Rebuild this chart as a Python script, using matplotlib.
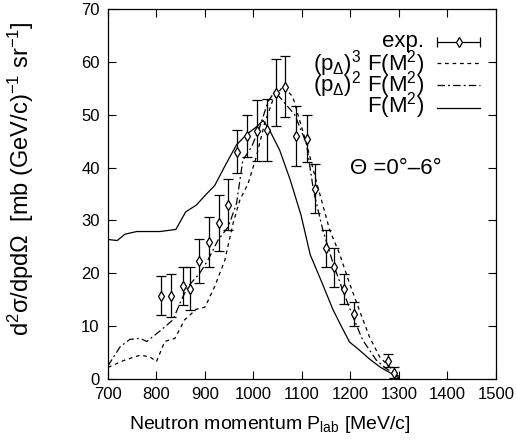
import matplotlib
matplotlib.use("Agg")
import matplotlib.pyplot as plt

plt.rcParams['font.family'] = ['Liberation Sans', 'DejaVu Sans']
plt.rcParams['mathtext.fontset'] = 'custom'
plt.rcParams['mathtext.rm'] = 'Liberation Sans'
plt.rcParams['mathtext.it'] = 'Liberation Sans:italic'
plt.rcParams['mathtext.bf'] = 'Liberation Sans:bold'

# experimental points
exp_p = [809, 830, 854, 869, 888, 908, 928, 947, 967, 987, 1007, 1028, 1046,
         1066, 1088, 1110, 1127, 1149, 1166, 1186, 1208, 1278, 1289]
exp_y = [15.8, 15.8, 17.6, 17.1, 22.3, 25.9, 29.5, 33.0, 43.0, 46.0, 47.0, 47.1, 54.2,
         55.3, 46.0, 45.5, 36.0, 24.7, 21.1, 17.0, 12.3, 3.5, 1.2]
exp_err = [3.6, 4.0, 3.6, 4.1, 4.1, 4.7, 5.3, 4.8, 4.1, 4.0, 5.8, 5.8, 6.3,
           5.8, 5.7, 4.5, 4.6, 3.5, 3.6, 2.9, 2.3, 1.2, 1.0]

# F(M^2)
f_p = [700, 719, 735, 759, 807, 840, 860, 882, 903, 920, 944, 965, 985, 1006, 1020,
       1033, 1054, 1076, 1098, 1117, 1140, 1164, 1181, 1198, 1218, 1239, 1262, 1285, 1300]
f_y = [26.4, 26.2, 27.4, 27.9, 27.9, 28.3, 31.6, 32.9, 35.0, 36.6, 40.8, 44.3, 46.2, 47.7, 48.9,
       47.1, 43.3, 37.6, 31.0, 23.5, 18.5, 13.1, 10.0, 7.0, 5.5, 3.8, 2.2, 1.0, 0.2]

# (p_Delta)^3 F(M^2)
p3_p = [700, 735, 766, 786, 800, 817, 838, 858, 882, 900, 920, 941, 958, 972, 989,
        1006, 1023, 1040, 1061, 1081, 1109, 1129, 1157, 1177, 1198, 1218, 1239, 1260, 1280, 1300]
p3_y = [2.2, 3.6, 4.5, 4.2, 3.3, 7.1, 7.7, 11.2, 13.2, 13.6, 17.5, 22.5, 29.5, 33.9, 37.0,
        42.1, 48.4, 52.8, 55.4, 53.4, 44.6, 37.6, 28.2, 23.8, 18.1, 13.1, 8.0, 4.2, 2.3, 0.5]

# (p_Delta)^2 F(M^2)
p2_p = [700, 725, 745, 766, 780, 810, 834, 851, 865, 889, 906, 927, 948, 965, 978,
        996, 1013, 1030, 1044, 1085, 1109, 1124, 1143, 1164, 1184, 1205, 1225, 1253, 1273, 1290, 1300]
p2_y = [2.5, 6.1, 7.5, 7.7, 7.1, 9.3, 11.2, 14.9, 17.5, 20.0, 22.5, 26.3, 28.8, 33.2, 41.4,
        43.9, 47.7, 52.5, 54.4, 50.0, 44.6, 35.5, 28.2, 21.9, 16.8, 11.8, 7.4, 3.6, 2.0, 1.1, 0.5]

legend_labels = ['exp.',
                 r'(p$_\Delta$)$^3$ F(M$^2$)',
                 r'(p$_\Delta$)$^2$ F(M$^2$)',
                 r'F(M$^2$)']

fig = plt.figure(figsize=(5.16, 4.42), dpi=100)
ax = fig.add_axes([0.2093, 0.1425, 0.7519, 0.8371])

lw = 0.9
dot_style = dict(color='black', lw=lw, dashes=(3, 3))
dashdot_style = dict(color='black', lw=lw, dashes=(6, 2.5, 1.5, 2.5))
solid_style = dict(color='black', lw=lw, ls='-')
exp_style = dict(fmt='d', color='black', mfc='white', mec='black', ms=5.5, mew=0.9,
                 elinewidth=0.9, capsize=3.5, capthick=0.9)

ax.plot(p3_p, p3_y, **dot_style)
ax.plot(p2_p, p2_y, **dashdot_style)
ax.plot(f_p, f_y, **solid_style)
ax.errorbar(exp_p, exp_y, yerr=exp_err, **exp_style)

ax.set_xlim(700, 1500)
ax.set_ylim(0, 70)
ax.set_xticks(range(700, 1501, 100))
ax.set_yticks(range(0, 71, 10))
ax.tick_params(direction='in', top=True, right=True, length=6, width=0.8,
               labelsize=12, pad=6)
for s in ax.spines.values():
    s.set_linewidth(0.9)

ax.set_xlabel(r'Neutron momentum P$_{\mathrm{lab}}$ [MeV/c]', fontsize=14)
ax.xaxis.set_label_coords(0.418, -0.095)
ax.set_ylabel(r'd$^2$σ/dpdΩ  [mb (GeV/c)$^{-1}$ sr$^{-1}$]', fontsize=17)
ax.yaxis.set_label_coords(-0.185, 0.54)

# legend drawn by hand: right-aligned labels, samples to the right
tr = ax.transAxes
text_y = [0.897, 0.835, 0.778, 0.719]
line_y = [0.910, 0.853, 0.795, 0.733]
x0, x1 = 0.848, 0.959
for lab, ty in zip(legend_labels, text_y):
    ax.text(0.814, ty, lab, transform=tr, fontsize=16, ha='right', va='baseline')
ax.errorbar([(x0 + x1) / 2], [line_y[0]], xerr=[(x1 - x0) / 2], transform=tr,
            clip_on=False, **exp_style)
ax.plot([x0, x1], [line_y[1]] * 2, transform=tr, **dot_style)
ax.plot([x0, x1], [line_y[2]] * 2, transform=tr, **dashdot_style)
ax.plot([x0, x1], [line_y[3]] * 2, transform=tr, **solid_style)

ax.text(0.624, 0.57, 'Θ =0°–6°', transform=tr, fontsize=16, ha='left', va='center')

fig.savefig('out.png', dpi=100)
